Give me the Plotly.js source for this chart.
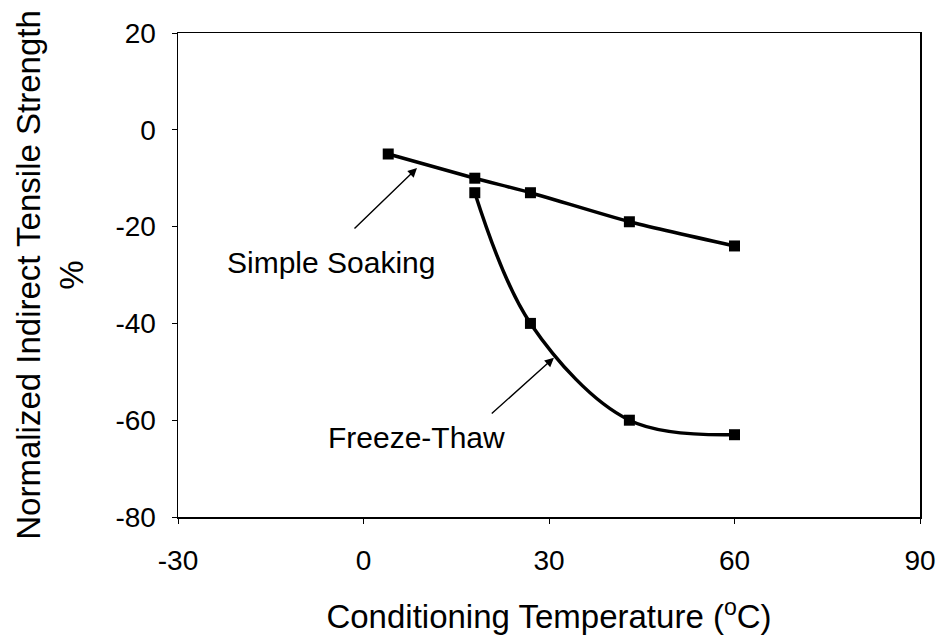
<!DOCTYPE html>
<html>
<head>
<meta charset="utf-8">
<script src="https://cdn.plot.ly/plotly-3.0.1.min.js"></script>
<style>html,body{margin:0;padding:0;background:#fff;}#chart{width:951px;height:641px;}</style>
</head>
<body>
<div id="chart"></div>
<script>
// Data
const soakTemp = [4, 18, 27, 43, 60];
const soakStrength = [-5, -10, -13, -19, -24];
const ftTemp = [18, 27, 43, 60];
const ftStrength = [-13, -40, -60, -63];
const xTicks = [-30, 0, 30, 60, 90];
const yTicks = [20, 0, -20, -40, -60, -80];
const seriesNames = ['Simple Soaking', 'Freeze-Thaw'];

const FONT = 'Liberation Sans, Arial, sans-serif';

const traces = [
  {
    x: soakTemp, y: soakStrength, name: seriesNames[0],
    mode: 'lines+markers', type: 'scatter',
    line: {color: '#000', width: 3.5, shape: 'spline', smoothing: 0.6},
    marker: {symbol: 'square', size: 11, color: '#000'}
  },
  {
    x: ftTemp, y: ftStrength, name: seriesNames[1],
    mode: 'lines+markers', type: 'scatter',
    line: {color: '#000', width: 3.5, shape: 'spline', smoothing: 1},
    marker: {symbol: 'square', size: 11, color: '#000'}
  }
];

const layout = {
  width: 951, height: 641,
  margin: {l: 178, r: 31, t: 33, b: 124},
  paper_bgcolor: '#fff', plot_bgcolor: '#fff',
  showlegend: false,
  font: {family: FONT, color: '#000', size: 30},
  xaxis: {
    range: [-30, 90], tickvals: xTicks, ticktext: xTicks.map(String),
    showgrid: false, zeroline: false,
    showline: true, linecolor: '#000', linewidth: 1.5, mirror: true,
    ticks: 'outside', ticklen: 5, tickcolor: '#000',
    ticklabelstandoff: 13,
    tickfont: {family: FONT, size: 28, color: '#000'},
    title: {text: 'Conditioning Temperature (<sup>o</sup>C)', font: {family: FONT, size: 33, color: '#000'}, standoff: 30}
  },
  yaxis: {
    range: [-80, 20], tickvals: yTicks, ticktext: yTicks.map(String),
    showgrid: false, zeroline: false,
    showline: true, linecolor: '#000', linewidth: 1.5, mirror: true,
    ticks: 'outside', ticklen: 5, tickcolor: '#000',
    ticklabelstandoff: 10,
    tickfont: {family: FONT, size: 28, color: '#000'},
    title: {text: 'Normalized Indirect Tensile Strength<br>%', font: {family: FONT, size: 33, color: '#000'}, standoff: 22}
  },
  annotations: [
    {x: 8.65, y: -7.9, ax: -1.7, ay: -20.7, xref: 'x', yref: 'y', axref: 'x', ayref: 'y',
     showarrow: true, arrowhead: 2, arrowsize: 1.3, arrowwidth: 1.4, arrowcolor: '#000', text: ''},
    {x: -5.2, y: -27.5, xref: 'x', yref: 'y', showarrow: false, text: seriesNames[0],
     font: {family: FONT, size: 30, color: '#000'}},
    {x: 30.8, y: -47.1, ax: 20.5, ay: -58.9, xref: 'x', yref: 'y', axref: 'x', ayref: 'y',
     showarrow: true, arrowhead: 2, arrowsize: 1.3, arrowwidth: 1.4, arrowcolor: '#000', text: ''},
    {x: 8.65, y: -63.5, xref: 'x', yref: 'y', showarrow: false, text: seriesNames[1],
     font: {family: FONT, size: 30, color: '#000'}}
  ]
};

Plotly.newPlot('chart', traces, layout, {displayModeBar: false, staticPlot: true});
</script>
</body>
</html>
